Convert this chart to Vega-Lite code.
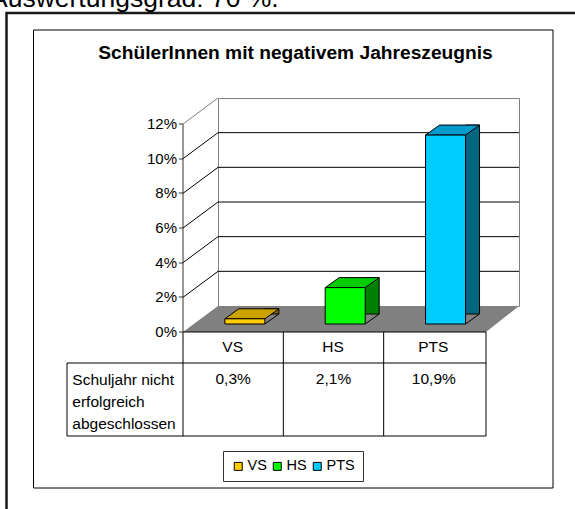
{
  "$schema": "https://vega.github.io/schema/vega-lite/v6.json",
  "width": 301,
  "height": 208,
  "autosize": {"type": "none"},
  "padding": {"left": 218, "top": 98, "right": 56, "bottom": 203},
  "background": "white",
  "config": {
    "font": "Liberation Sans",
    "view": {"stroke": "#808080", "strokeWidth": 1},
    "axis": {"labelOverlap": false, "labelSeparation": 0, "labelBound": false, "labelFlush": false},
    "locale": {"number": {"decimal": ",", "thousands": ".", "grouping": [3], "currency": ["", " €"]}}
  },
  "datasets": {
    "schulen": [
      {"Schulart": "VS", "Anteil": 0.003},
      {"Schulart": "HS", "Anteil": 0.021},
      {"Schulart": "PTS", "Anteil": 0.109}
    ],
    "ticks": [
      {"v": 0}, {"v": 0.02}, {"v": 0.04}, {"v": 0.06}, {"v": 0.08}, {"v": 0.10}, {"v": 0.12}
    ]
  },
  "data": {"name": "schulen"},
  "resolve": {"scale": {"fill": "independent"}},
  "layer": [
    {
      "data": {"values": [{}]},
      "mark": {"type": "point", "shape": "M-335,-172 H184.5 V286 H-335 Z", "size": 4, "filled": false, "opacity": 1, "stroke": "black", "strokeWidth": 1},
      "encoding": {}
    },
    {
      "data": {"values": [{}]},
      "mark": {"type": "point", "shape": "M-362,330 V-189 H230", "size": 4, "filled": false, "opacity": 1, "stroke": "#1a1a1a", "strokeWidth": 2.5},
      "encoding": {}
    },
    {
      "data": {"values": [{}]},
      "mark": {"type": "text", "text": "Auswertungsgrad: 70 %.", "align": "left", "baseline": "alphabetic", "fontSize": 26.5, "dx": -378.5, "dy": -195, "color": "black"},
      "encoding": {}
    },
    {
      "data": {"values": [{}]},
      "mark": {"type": "text", "text": "SchülerInnen mit negativem Jahreszeugnis", "align": "center", "baseline": "alphabetic", "fontSize": 19.2, "fontWeight": "bold", "dx": -73, "dy": -142.7, "color": "black"},
      "encoding": {}
    },
    {
      "data": {"name": "ticks"},
      "transform": [{"filter": "datum.v > 0.001 && datum.v < 0.119"}],
      "mark": {"type": "rule", "color": "black", "strokeWidth": 1},
      "encoding": {
        "y": {"field": "v", "type": "quantitative"}
      }
    },
    {
      "data": {"name": "ticks"},
      "transform": [{"filter": "datum.v > 0.001"}],
      "mark": {"type": "point", "shape": "M-150.5,0 L-185.5,26", "size": 4, "filled": false, "opacity": 1, "strokeWidth": 1},
      "encoding": {
        "y": {"field": "v", "type": "quantitative"},
        "stroke": {"condition": {"test": "datum.v > 0.119", "value": "#808080"}, "value": "black"}
      }
    },
    {
      "data": {"values": [{}]},
      "mark": {"type": "point", "shape": "M-150.5,0 L150.5,0 L117.5,26 L-185.5,26 Z", "size": 4, "filled": true, "opacity": 1, "fill": "#808080", "strokeWidth": 0},
      "encoding": {
        "y": {"datum": 0, "type": "quantitative"}
      }
    },
    {
      "data": {"values": [{}]},
      "mark": {"type": "point", "shape": "M-185.5,130 H117.5 M-301.5,161 H117.5 M-301.5,234 H117.5", "size": 4, "filled": false, "opacity": 1, "stroke": "black", "strokeWidth": 1},
      "encoding": {}
    },
    {
      "mark": {"type": "rule", "color": "black", "strokeWidth": 1, "xOffset": -35, "yOffset": 26, "y2Offset": 130},
      "encoding": {
        "x": {"field": "Schulart", "type": "nominal", "sort": null, "bandPosition": 0},
        "y": {"datum": 0, "type": "quantitative"},
        "y2": {"datum": 0}
      }
    },
    {
      "transform": [{"filter": "datum.Schulart == 'PTS'"}],
      "mark": {"type": "rule", "color": "black", "strokeWidth": 1, "xOffset": -33, "yOffset": 26, "y2Offset": 130},
      "encoding": {
        "x": {"field": "Schulart", "type": "nominal", "sort": null, "bandPosition": 1},
        "y": {"datum": 0, "type": "quantitative"},
        "y2": {"datum": 0}
      }
    },
    {
      "transform": [{"filter": "datum.Schulart == 'VS'"}],
      "mark": {"type": "rule", "color": "black", "strokeWidth": 1, "xOffset": -151, "yOffset": 57, "y2Offset": 130},
      "encoding": {
        "x": {"field": "Schulart", "type": "nominal", "sort": null, "bandPosition": 0},
        "y": {"datum": 0, "type": "quantitative"},
        "y2": {"datum": 0}
      }
    },
    {
      "mark": {"type": "text", "fontSize": 15.5, "align": "center", "baseline": "middle", "xOffset": -35, "yOffset": 73, "color": "black"},
      "encoding": {
        "x": {"field": "Schulart", "type": "nominal", "sort": null},
        "y": {"datum": 0, "type": "quantitative"},
        "text": {"field": "Anteil", "type": "quantitative", "format": ".1%"}
      }
    },
    {
      "data": {"values": [{}]},
      "mark": {"type": "text", "text": ["Schuljahr nicht", "erfolgreich", "abgeschlossen"], "lineHeight": 21.7, "fontSize": 15.5, "align": "left", "baseline": "top", "dx": -296.2, "dy": 171.3, "color": "black"},
      "encoding": {}
    },
    {
      "mark": {"type": "bar", "size": 14, "xOffset": 3.7, "yOffset": 8, "y2Offset": 18, "stroke": "black", "strokeWidth": 1},
      "encoding": {
        "x": {"field": "Schulart", "type": "nominal", "sort": null},
        "y": {"field": "Anteil", "type": "quantitative"},
        "fill": {"field": "Schulart", "type": "nominal", "legend": null, "scale": {"domain": ["VS", "HS", "PTS"], "range": ["#806600", "#008000", "#006680"]}}
      }
    },
    {
      "mark": {"type": "point", "shape": "M-3.3,19 L11.2,8 L11.2,19 Z", "size": 4, "filled": true, "opacity": 1, "fill": "#808080", "strokeWidth": 0},
      "encoding": {
        "x": {"field": "Schulart", "type": "nominal", "sort": null},
        "y": {"datum": 0, "type": "quantitative"}
      }
    },
    {
      "mark": {"type": "point", "shape": "M-3.3,18 L10.7,8", "size": 4, "filled": false, "opacity": 1, "stroke": "black", "strokeWidth": 1},
      "encoding": {
        "x": {"field": "Schulart", "type": "nominal", "sort": null},
        "y": {"datum": 0, "type": "quantitative"}
      }
    },
    {
      "mark": {"type": "point", "shape": "M-43.3,18 L-3.3,18 L10.7,8 L-29.3,8 Z", "size": 4, "filled": true, "opacity": 1, "stroke": "black", "strokeWidth": 1},
      "encoding": {
        "x": {"field": "Schulart", "type": "nominal", "sort": null},
        "y": {"field": "Anteil", "type": "quantitative"},
        "fill": {"field": "Schulart", "type": "nominal", "legend": null, "scale": {"domain": ["VS", "HS", "PTS"], "range": ["#CCA300", "#00CC00", "#0099CC"]}}
      }
    },
    {
      "mark": {"type": "bar", "size": 40, "xOffset": -23.3, "yOffset": 18, "y2Offset": 18, "stroke": "black", "strokeWidth": 1},
      "encoding": {
        "x": {
          "field": "Schulart", "type": "nominal", "sort": null,
          "scale": {"domain": ["VS", "HS", "PTS"], "paddingInner": 0, "paddingOuter": 0},
          "axis": {"orient": "bottom", "offset": 61, "translate": -35, "bandPosition": 0.5, "title": null, "domain": false, "ticks": false, "grid": false, "labelAngle": 0, "labelAlign": "center", "labelBaseline": "middle", "labelPadding": 15, "labelFontSize": 15.5, "labelColor": "black", "labelFont": "Liberation Sans"}
        },
        "y": {
          "field": "Anteil", "type": "quantitative",
          "scale": {"domain": [0, 0.12], "nice": false, "zero": true},
          "axis": {"orient": "left", "offset": 61, "translate": 26, "title": null, "grid": false, "format": ".0%", "values": [0, 0.02, 0.04, 0.06, 0.08, 0.1, 0.12], "tickCount": 7, "labelOverlap": false, "labelSeparation": 0, "domainColor": "#333333", "tickColor": "#333333", "tickSize": 4, "labelPadding": 2, "labelFontSize": 15, "labelColor": "black", "labelFont": "Liberation Sans"}
        },
        "color": {
          "field": "Schulart", "type": "nominal",
          "scale": {"domain": ["VS", "HS", "PTS"], "range": ["#FFCC00", "#00FF00", "#00CCFF"]},
          "legend": {"orient": "none", "legendX": 5, "legendY": 353, "direction": "horizontal", "title": null, "strokeColor": "#333333", "fillColor": "white", "padding": 8, "symbolType": "square", "symbolSize": 64, "symbolStrokeColor": "black", "symbolStrokeWidth": 1, "symbolOpacity": 1, "labelFontSize": 14.5, "labelFont": "Liberation Sans", "labelColor": "black", "labelOffset": 2, "columnPadding": 3}
        }
      }
    }
  ]
}
